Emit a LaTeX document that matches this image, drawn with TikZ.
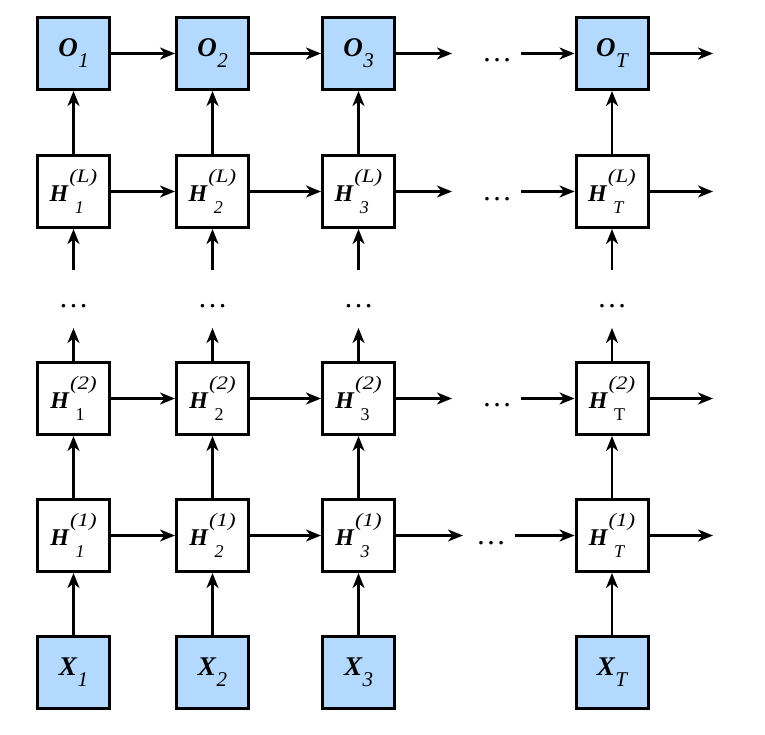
\documentclass[tikz,border=0pt]{standalone}
\usepackage{graphicx}
\usepackage{fontspec}
\setmainfont{Liberation Serif}
\usetikzlibrary{arrows.meta}
\definecolor{boxblue}{RGB}{179,217,255}
% H label: #1 subscript, #2 superscript, #3 subscript shape
\newcommand{\suptext}[1]{\scalebox{1.2}[1]{\fontsize{19}{19}\selectfont\itshape(#1)}}
\newcommand{\hlab}[3]{{\fontsize{24}{24}\selectfont\bfseries\itshape H}\kern1pt%
  \rlap{\raisebox{19pt}{\suptext{#2}}}%
  \rlap{\raisebox{-12pt}{\kern1pt\fontsize{18}{18}\selectfont#3 #1}}%
  \hphantom{\suptext{#2}}}
\newcommand{\olab}[2]{{\fontsize{27}{27}\selectfont\bfseries\itshape #1}\kern0.5pt%
  \raisebox{-11pt}{\fontsize{21}{21}\selectfont\itshape #2}}
\begin{document}
\begin{tikzpicture}[x=1pt,y=-1pt,
  box/.style={draw, line width=3pt, minimum size=72pt, inner sep=0pt, fill=white},
  inbox/.style={box, fill=boxblue},
  arr/.style={-{Stealth[length=15pt,width=12pt,inset=4.5pt]}, line width=2.3pt},
  dotsl/.style={anchor=base, inner sep=0pt, font=\fontsize{30}{32}\selectfont}]
\useasboundingbox (0,0) rectangle (765,735);
\foreach \i/\x in {1/73.5,2/212.5,3/358.5,T/612}{
  \node[inbox] (O\i) at (\x,53.5) {\olab{O}{\i}};
  \node[box] (HL\i) at (\x,191.5) {\hlab{\i}{L}{\itshape}};
  \node[box] (HB\i) at (\x,398.5) {\hlab{\i}{2}{\upshape}};
  \node[box] (HA\i) at (\x,535.5) {\hlab{\i}{1}{\itshape}};
  \node[inbox] (X\i) at (\x,672.5) {\olab{X}{\i}};
  \coordinate (vu\i) at (\x,328);
  \coordinate (vd\i) at (\x,270);
  \draw[arr] (X\i) -- (HA\i);
  \draw[arr] (HA\i) -- (HB\i);
  \draw[arr] (HB\i) -- (vu\i);
  \draw[arr] (vd\i) -- (HL\i);
  \draw[arr] (HL\i) -- (O\i);
  \node[dotsl] (vdots\i) at (\x,307) {\dots};
}
\foreach \r/\y/\a/\b/\d/\db in {O/53.5/452/521/497/62, HL/191.5/452/521/497/201, HB/398.5/452/521/497/406, HA/535.5/463/515/491/544}{
  \coordinate (\r a) at (\a,\y);
  \coordinate (\r b) at (\b,\y);
  \coordinate (\r e) at (713,\y);
  \draw[arr] (\r1) -- (\r2);
  \draw[arr] (\r2) -- (\r3);
  \draw[arr] (\r3) -- (\r a);
  \draw[arr] (\r b) -- (\r T);
  \draw[arr] (\r T) -- (\r e);
  \node[dotsl] (\r dots) at (\d,\db) {\dots};
}
\end{tikzpicture}
\end{document}
